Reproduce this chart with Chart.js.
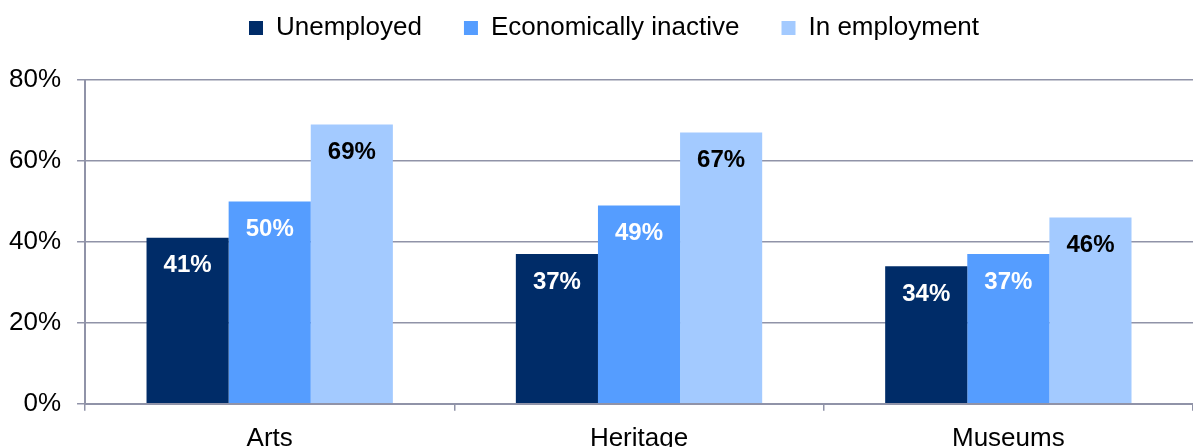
<!DOCTYPE html>
<html>
<head>
<meta charset="utf-8">
<script src="https://cdn.jsdelivr.net/npm/chart.js@4.4.1/dist/chart.umd.min.js"></script>
<style>
  html, body { margin: 0; padding: 0; background: #fff; }
  .chart-box { position: relative; width: 1193px; height: 447px; }
</style>
</head>
<body>
<div class="chart-box"><canvas id="chart"></canvas></div>
<script>
const categories = ['Arts', 'Heritage', 'Museums'];
const unemployed = [41, 37, 34];
const inactive = [50, 49, 37];
const employed = [69, 67, 46];
const yTicks = [0, 20, 40, 60, 80];

const gridColor = '#9093a8';
const fontFamily = '"Liberation Sans", Arial, sans-serif';

// value labels sit inside each bar, just under its top edge
const barLabels = {
  id: 'barLabels',
  afterDatasetsDraw(chart) {
    const ctx = chart.ctx;
    ctx.save();
    ctx.font = 'bold 24px ' + fontFamily;
    ctx.textAlign = 'center';
    ctx.textBaseline = 'middle';
    chart.data.datasets.forEach((ds, i) => {
      const meta = chart.getDatasetMeta(i);
      ctx.fillStyle = ds.labelColor;
      meta.data.forEach((bar, j) => {
        ctx.fillText(ds.data[j] + '%', bar.x, bar.y + 28);
      });
    });
    ctx.restore();
  }
};

// extra room between legend and plot, and nudge the legend a bit right
const legendGap = {
  id: 'legendGap',
  beforeInit(chart) {
    const fit = chart.legend.fit;
    chart.legend.fit = function () {
      fit.bind(chart.legend)();
      this.height += 29;
    };
  },
  afterLayout(chart) {
    chart.legend.left += 21;
    chart.legend.right += 21;
  }
};

new Chart(document.getElementById('chart'), {
  type: 'bar',
  data: {
    labels: categories,
    datasets: [
      { label: 'Unemployed', data: unemployed, backgroundColor: '#002c68', labelColor: '#ffffff' },
      { label: 'Economically inactive', data: inactive, backgroundColor: '#559dff', labelColor: '#ffffff' },
      { label: 'In employment', data: employed, backgroundColor: '#a3caff', labelColor: '#000000' }
    ]
  },
  options: {
    responsive: true,
    maintainAspectRatio: false,
    animation: false,
    datasets: { bar: { categoryPercentage: 0.667, barPercentage: 1.0 } },
    layout: { padding: { top: -27, left: -7, right: 0, bottom: -19 } },
    plugins: {
      legend: {
        position: 'top',
        labels: {
          boxWidth: 14,
          boxHeight: 14,
          padding: 42,
          color: '#000',
          font: { family: fontFamily, size: 26 }
        }
      },
      tooltip: { enabled: false }
    },
    scales: {
      x: {
        grid: { drawOnChartArea: false, drawTicks: true, tickLength: 7, color: gridColor, lineWidth: 1.5 },
        border: { color: gridColor, width: 2 },
        ticks: { color: '#000', padding: 12, font: { family: fontFamily, size: 26 } }
      },
      y: {
        min: 0,
        max: 80,
        afterBuildTicks(scale) { scale.ticks = yTicks.map(v => ({ value: v })); },
        grid: { color: gridColor, lineWidth: 1.5, tickLength: 8 },
        border: { color: gridColor, width: 2 },
        ticks: {
          color: '#000',
          padding: 16,
          font: { family: fontFamily, size: 26 },
          callback: v => v + '%'
        }
      }
    }
  },
  plugins: [barLabels, legendGap]
});
</script>
</body>
</html>
